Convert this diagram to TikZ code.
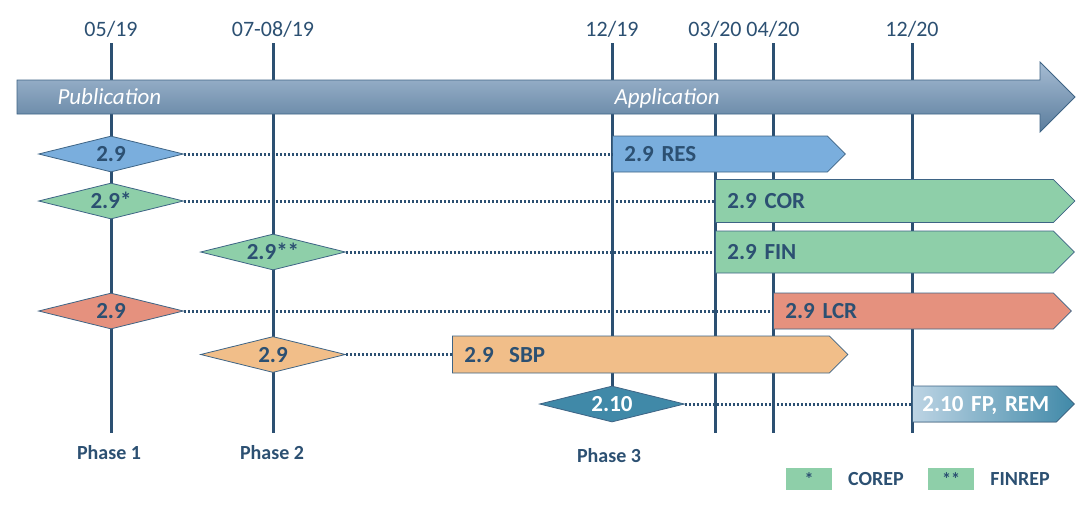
\documentclass[tikz,border=0pt]{standalone}
\usepackage{fontspec}
\setmainfont{Carlito}
\usetikzlibrary{shapes.geometric, shapes.symbols, backgrounds}
\definecolor{cnavy}{HTML}{2C5072}
\definecolor{cedge}{HTML}{3E6485}
\definecolor{cblue}{HTML}{7AAEDD}
\definecolor{cgreen}{HTML}{8ECFA9}
\definecolor{cred}{HTML}{E5917E}
\definecolor{corange}{HTML}{F1BE89}
\definecolor{cteal}{HTML}{4089A8}
\definecolor{cpale}{HTML}{BDD4E4}
\definecolor{carrowtop}{HTML}{A6BCD3}
\definecolor{carrowbot}{HTML}{5B7D9D}
\tikzset{
  every picture/.style={x=1pt, y=-1pt, line width=1pt},
  datelbl/.style={font=\fontsize{22}{22}\selectfont, text=cnavy, anchor=south, inner ysep=6pt, text depth=0pt},
  tickline/.style={draw=cnavy, line width=3pt},
  milestone/.style={diamond, aspect=4, draw=cedge, line width=0.8pt, fill=#1, minimum width=145pt, minimum height=36pt, inner sep=0pt, text height=15pt, text depth=0pt, font=\bfseries\fontsize{23}{23}\selectfont, text=cnavy},
  relbar/.style={signal, signal to=east, signal pointer angle=90, draw=cedge, line width=0.8pt, fill=#1, anchor=west, inner xsep=12pt, text height=15pt, text depth=0pt, align=left, font=\bfseries\fontsize{23}{23}\selectfont, text=cnavy},
  dotlink/.style={draw=cnavy, line width=3pt, dash pattern=on 2.2pt off 1.8pt},
  phaselbl/.style={font=\bfseries\fontsize{20}{20}\selectfont, text=cnavy},
  eralbl/.style={font=\itshape\fontsize{23}{23}\selectfont, text=white, anchor=west, inner sep=0pt, text height=16pt, text depth=4pt},
  keybox/.style={fill=cgreen, minimum width=46pt, minimum height=22pt, inner sep=0pt, font=\bfseries\fontsize{18}{18}\selectfont, text=cnavy},
  keytxt/.style={font=\bfseries\fontsize{20}{20}\selectfont, text=cnavy},
}
\begin{document}
\begin{tikzpicture}
  \useasboundingbox (0,0) rectangle (1090,507);
  % dates
  \node[datelbl] (d0519) at (111,43) {05/19};
  \node[datelbl] (d0708) at (273,43) {07-08/19};
  \node[datelbl] (d1219) at (612,43) {12/19};
  \node[datelbl] (d0320) at (715,43) {03/20};
  \node[datelbl] (d0420) at (773,43) {04/20};
  \node[datelbl] (d1220) at (912,43) {12/20};
  \coordinate (e0519) at (111,433);
  \coordinate (e0708) at (273,433);
  \coordinate (e0320) at (715,433);
  \coordinate (e0420) at (773,433);
  \coordinate (e1220) at (912,433);
  % milestones
  \node[milestone=cblue] (v29res) at (111,154) {2.9};
  \node[milestone=cgreen] (v29cor) at (111,201) {2.9*};
  \node[milestone=cgreen] (v29fin) at (273,252) {2.9**};
  \node[milestone=cred] (v29lcr) at (111,311) {2.9};
  \node[milestone=corange] (v29sbp) at (273,354.5) {2.9};
  \node[milestone=cteal, text=white] (v210) at (612,404) {2.10};
  % releases
  \node[relbar=cblue, text width=191pt, inner ysep=10.5pt] (res) at (612,154) {2.9 RES};
  \node[relbar=cgreen, text width=314pt, inner ysep=14pt] (cor) at (715,201) {2.9 COR};
  \node[relbar=cgreen, text width=314pt, inner ysep=13.5pt] (fin) at (715,252) {2.9 FIN};
  \node[relbar=cred, text width=256pt, inner ysep=10.5pt] (lcr) at (773,311) {2.9 LCR};
  \node[relbar=corange, text width=353pt, inner ysep=11pt] (sbp) at (452,354.5) {2.9\ \ SBP};
  \node[relbar, left color=cpale, right color=cteal, text=white, text width=124pt, inner xsep=10pt, inner ysep=10.5pt] (fprem) at (912,404) {\mbox{2.10 FP, REM}};
  \draw[dotlink] (v29res.east) -- (res.west);
  \draw[dotlink] (v29cor.east) -- (cor.west);
  \draw[dotlink] (v29fin.east) -- (fin.west);
  \draw[dotlink] (v29lcr.east) -- (lcr.west);
  \draw[dotlink] (v29sbp.east) -- (sbp.west);
  \draw[dotlink] (v210.east) -- (fprem.west);
  % timeline
  \node[eralbl] (pub) at (57,98) {Publication};
  \node[eralbl] (app) at (614,98) {Application};
  \begin{scope}[on background layer]
    \draw[tickline] (d0519.south) -- (e0519);
    \draw[tickline] (d0708.south) -- (e0708);
    \draw[tickline] (d1219.south) -- (v210.north);
    \draw[tickline] (d0320.south) -- (e0320);
    \draw[tickline] (d0420.south) -- (e0420);
    \draw[tickline] (d1220.south) -- (e1220);
    \shade[draw=cedge, line width=0.8pt, top color=carrowtop, bottom color=carrowbot]
      (17,80) -- (1040,80) -- (1040,62) -- (1075,97) -- (1040,132) -- (1040,114) -- (17,114) -- cycle;
  \end{scope}
  \node[phaselbl] (ph1) at (109,453) {Phase 1};
  \node[phaselbl] (ph2) at (272,453) {Phase 2};
  \node[phaselbl] (ph3) at (609,456) {Phase 3};
  % legend
  \node[keybox] (k1) at (809,479) {*};
  \node[keytxt] (corep) at (876,479) {COREP};
  \node[keybox] (k2) at (951,479) {**};
  \node[keytxt] (finrep) at (1020,479) {FINREP};
\end{tikzpicture}
\end{document}
